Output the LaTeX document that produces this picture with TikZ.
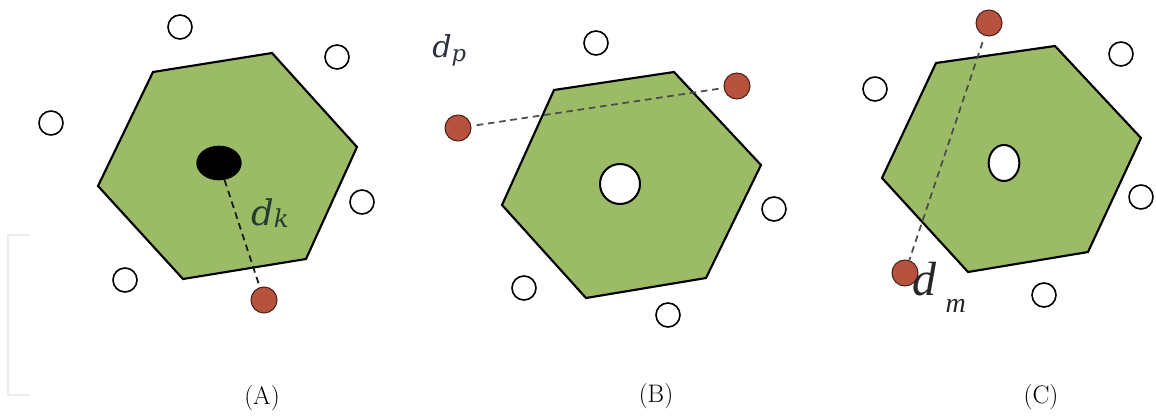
\documentclass[tikz,border=0pt]{standalone}
\usepackage{fontspec}
\newfontfamily\timesfont{Liberation Serif}
\newfontfamily\labelfont{DejaVu Serif}
\usetikzlibrary{shapes.geometric,positioning}
\definecolor{cellgreen}{RGB}{155,187,102}
\definecolor{dotbrown}{RGB}{183,82,62}
\definecolor{bracketgray}{RGB}{236,236,236}
\definecolor{labgreen}{RGB}{38,58,48}
\definecolor{labnavy}{RGB}{45,48,64}

\begin{document}
\begin{tikzpicture}[x=0.75pt,y=-0.75pt,
  cell/.style={draw=black, fill=cellgreen, line width=1.6pt, line join=miter},
  site/.style={circle, draw=black, fill=white, line width=1.2pt, minimum size=18pt, inner sep=0pt},
  target/.style={circle, draw=black!60!dotbrown, fill=dotbrown, line width=0.8pt, minimum size=19.5pt, inner sep=0pt},
  link/.style={dash pattern=on 5pt off 3.5pt, line width=1.3pt, draw=black!70, shorten <=2pt, shorten >=2pt},
  caption/.style={font=\fontsize{19}{22}\selectfont},
  dist/.style={anchor=base west, inner sep=0pt, font=\labelfont\itshape}
]
  \useasboundingbox (0,0) rectangle (1156,417);

  % stray bracket on the left
  \draw[bracketgray, line width=1.5pt] (30,235) -- (8,235) -- (8,395) -- (30,395);

  % cells
  \draw[cell] (153,72) -- (272,53) -- (357,147) -- (306,259) -- (183,279) -- (98,186) -- cycle;
  \draw[cell] (554,90) -- (674,72) -- (761,165) -- (706,278) -- (586,298) -- (502,205) -- cycle;
  \draw[cell] (936,63) -- (1055,46) -- (1141,138) -- (1088,252) -- (968,272) -- (882,178) -- cycle;

  % neighbour sites
  \foreach \x/\y [count=\i] in {180/27, 337/57, 51/123, 362/202, 125/280} {
    \node[site] (sa\i) at (\x,\y) {};
  }
  \foreach \x/\y [count=\i] in {596/43, 774/209, 524/288, 668/315} {
    \node[site] (sb\i) at (\x,\y) {};
  }
  \foreach \x/\y [count=\i] in {875/89, 1121/54, 1141/197, 1044/295} {
    \node[site] (sc\i) at (\x,\y) {};
  }

  % (A)
  \node[ellipse, fill=black, minimum width=34pt, minimum height=26pt, inner sep=0pt] (ka) at (219,163) {};
  \node[target] (kb) at (264,300) {};
  \draw[link, draw=black!55!labgreen, shorten <=0pt] (ka) -- (kb);
  \node[dist, text=labgreen] (dk) at (251,225)
    {\fontsize{26.5}{28}\selectfont d\raisebox{-1.5pt}{\fontsize{18.5}{20}\selectfont k}};
  \node[caption] (capa) at (262,398) {(A)};

  % (B)
  \node[circle, draw=black, fill=white, line width=1.5pt, minimum size=30pt, inner sep=0pt] (pc) at (620,184) {};
  \node[target] (pa) at (458,128) {};
  \node[target] (pb) at (737,86) {};
  \draw[link, shorten <=4pt] (pa) -- (pb);
  \node[dist, text=labnavy] (dp) at (432,58)
    {\fontsize{22.7}{24}\selectfont d\raisebox{-2.5pt}{\fontsize{17}{18}\selectfont p}};
  \node[caption] (capb) at (656,396) {(B)};

  % (C)
  \node[ellipse, draw=black, fill=white, line width=1.5pt, minimum width=23pt, minimum height=27pt, inner sep=0pt] (mc) at (1004,163) {};
  \node[target] (ma) at (989,23) {};
  \node[target] (mb) at (905,273) {};
  \draw[link, shorten <=5pt, shorten >=0pt] (ma) -- (mb);
  \node[anchor=base west, inner sep=0pt, text=black!85, font=\timesfont\itshape\fontsize{36}{38}\selectfont] (dm) at (912,295)
    {d\hspace{7pt}\raisebox{-13pt}{\fontsize{21}{22}\selectfont m}};
  \node[caption] (capc) at (1041,397) {(C)};
\end{tikzpicture}
\end{document}
